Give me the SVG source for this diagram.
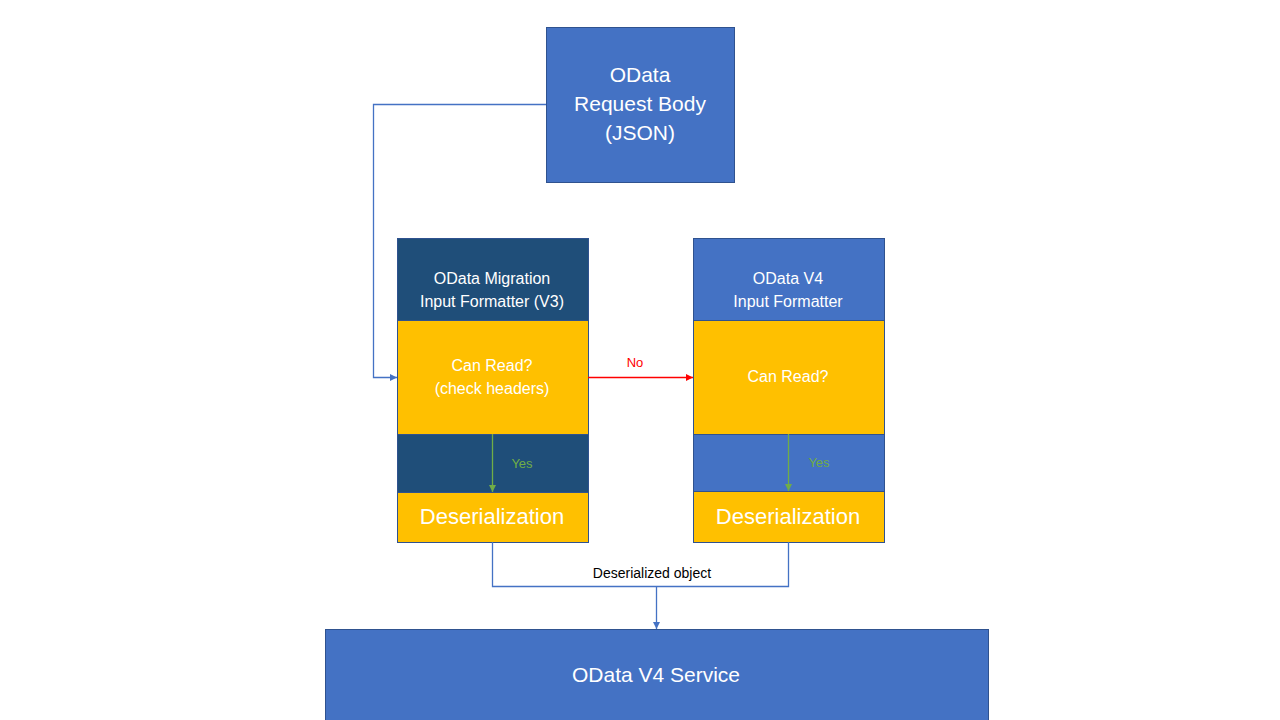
<svg xmlns="http://www.w3.org/2000/svg" width="1280" height="720" viewBox="0 0 1280 720">
<defs>
<style>
.t{font-family:"Liberation Sans",Arial,sans-serif;fill:#fff;text-anchor:middle}
.blue{fill:#4472C4;stroke:#2F528F;stroke-width:1}
.dark{fill:#1F4E79;stroke:#2F528F;stroke-width:1}
.yel{fill:#FFC000;stroke:#2F528F;stroke-width:1}
.c{fill:none;stroke-width:1.3}
.lbl{font-family:"Liberation Sans",Arial,sans-serif;text-anchor:middle}
</style>
<marker id="ab" viewBox="0 0 10 10" refX="10" refY="5" markerWidth="7" markerHeight="7" orient="auto" markerUnits="userSpaceOnUse"><path d="M0,0L10,5L0,10z" fill="#4472C4"/></marker>
<marker id="ar" viewBox="0 0 10 10" refX="10" refY="5" markerWidth="7" markerHeight="7" orient="auto" markerUnits="userSpaceOnUse"><path d="M0,0L10,5L0,10z" fill="#FF0000"/></marker>
<marker id="ag" viewBox="0 0 10 10" refX="10" refY="5" markerWidth="7" markerHeight="7" orient="auto" markerUnits="userSpaceOnUse"><path d="M0,0L10,5L0,10z" fill="#70AD47"/></marker>
</defs>
<rect width="1280" height="720" fill="#fff"/>
<g id="request">
<rect class="blue" x="546.5" y="27.5" width="188" height="155"/>
<text class="t" font-size="21" x="640" y="82">OData</text>
<text class="t" font-size="21" x="640" y="111">Request Body</text>
<text class="t" font-size="21" x="640" y="140">(JSON)</text>
</g>
<g id="migration">
<rect class="dark" x="397.5" y="238.5" width="191" height="82"/>
<rect class="yel" x="397.5" y="320.5" width="191" height="114"/>
<rect class="dark" x="397.5" y="434.5" width="191" height="58"/>
<rect class="yel" x="397.5" y="492.5" width="191" height="50"/>
<text class="t" font-size="16" x="492" y="284">OData Migration</text>
<text class="t" font-size="16" x="492" y="307">Input Formatter (V3)</text>
<text class="t" font-size="16" x="492" y="371">Can Read?</text>
<text class="t" font-size="16" x="492" y="394">(check headers)</text>
<text class="t" font-size="22" x="492" y="524">Deserialization</text>
</g>
<g id="v4formatter">
<rect class="blue" x="693.5" y="238.5" width="191" height="82"/>
<rect class="yel" x="693.5" y="320.5" width="191" height="114"/>
<rect class="blue" x="693.5" y="434.5" width="191" height="57"/>
<rect class="yel" x="693.5" y="491.5" width="191" height="51"/>
<text class="t" font-size="16" x="788" y="284">OData V4</text>
<text class="t" font-size="16" x="788" y="307">Input Formatter</text>
<text class="t" font-size="16" x="788" y="382">Can Read?</text>
<text class="t" font-size="22" x="788" y="524">Deserialization</text>
</g>
<g id="service">
<rect class="blue" x="325.5" y="629.5" width="663" height="100"/>
<text class="t" font-size="21" x="656" y="682">OData V4 Service</text>
</g>
<g id="connectors">
<path class="c" stroke="#4472C4" d="M546,104.5H373.5V377.5H397" marker-end="url(#ab)"/>
<path class="c" stroke="#FF0000" d="M588,377.5H693" marker-end="url(#ar)"/>
<path class="c" stroke="#70AD47" d="M492.5,434V492" marker-end="url(#ag)"/>
<path class="c" stroke="#70AD47" d="M788.5,434V491" marker-end="url(#ag)"/>
<path class="c" stroke="#4472C4" d="M492.5,542V586.5H788.5V542"/>
<path class="c" stroke="#4472C4" d="M656.5,586.5V629" marker-end="url(#ab)"/>
<text class="lbl" font-size="13" fill="#FF0000" x="635" y="367">No</text>
<text class="lbl" font-size="13" fill="#70AD47" x="522" y="468">Yes</text>
<text class="lbl" font-size="13" fill="#70AD47" x="819" y="467">Yes</text>
<text class="lbl" font-size="14" fill="#000" x="652" y="578">Deserialized object</text>
</g>
</svg>
